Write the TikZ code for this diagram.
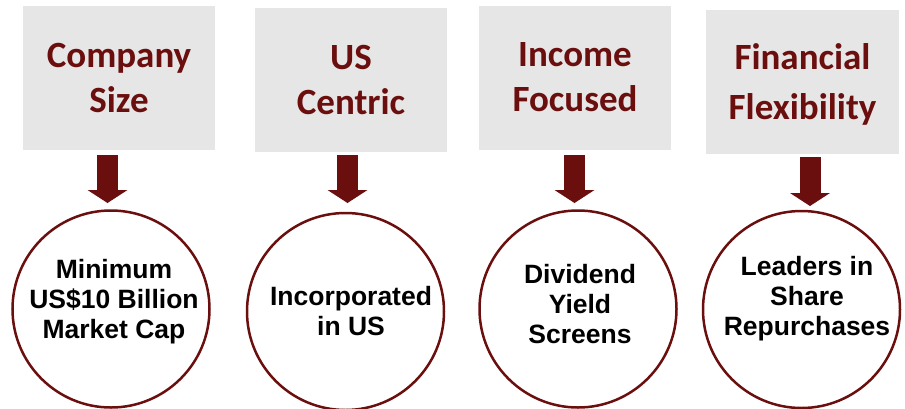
\documentclass[tikz,border=0pt]{standalone}
\usepackage{fontspec}
\setmainfont{Liberation Sans}
\newfontfamily\titlefont{Carlito}
\usetikzlibrary{arrows.meta}
\definecolor{darkmaroon}{HTML}{6B0E0E}
\definecolor{boxgray}{HTML}{E6E6E6}
\begin{document}
\begin{tikzpicture}[x=1pt,y=1pt,
  titlebox/.style={fill=boxgray, minimum width=192pt, minimum height=144pt, inner sep=0pt,
    font=\titlefont\bfseries\fontsize{37}{45}\selectfont, text=darkmaroon, align=center},
  critcircle/.style={circle, draw=darkmaroon, line width=2.5pt, minimum size=197pt, inner sep=0pt},
  crittext/.style={font=\bfseries\fontsize{26.5}{30}\selectfont, align=center, inner sep=0pt},
  downarrow/.style={draw=darkmaroon, line width=21pt, -{Triangle[width=40pt,length=13pt,line width=0pt]}}
]
\useasboundingbox (0,-408) rectangle (905,0);
% title boxes
\node[titlebox] (b1) at (119,-78) {Company\\Size};
\node[titlebox] (b2) at (351,-80) {US\\Centric};
\node[titlebox] (b3) at (575,-77.5) {Income\\Focused};
\node[titlebox, minimum width=193pt, text depth=-3pt, font=\titlefont\bfseries\fontsize{37}{50}\selectfont] (b4) at (802.5,-81.5) {Financial\\Flexibility};
% circles
\node[critcircle] (c1) at (111,-309) {};
\node[critcircle] (c2) at (345.5,-311.5) {};
\node[critcircle] (c3) at (578,-309) {};
\node[critcircle] (c4) at (801.5,-309.5) {};
\node[crittext] (t1) at (114,-301.5) {Minimum\\US\$10 Billion\\Market Cap};
\node[crittext] (t2) at (351,-311.5) {Incorporated\\in US};
\node[crittext] (t3) at (580,-304) {Dividend\\Yield\\Screens};
\node[crittext] (t4) at (807,-298.5) {Leaders in\\Share\\Repurchases};
% arrows
\coordinate (a1s) at (107.5,-155); \coordinate (a1e) at (107.5,-203);
\coordinate (a2s) at (347.5,-155); \coordinate (a2e) at (347.5,-203);
\coordinate (a3s) at (574.5,-155); \coordinate (a3e) at (574.5,-203);
\coordinate (a4s) at (810,-157);   \coordinate (a4e) at (810,-206);
\draw[downarrow] (a1s) -- (a1e);
\draw[downarrow] (a2s) -- (a2e);
\draw[downarrow] (a3s) -- (a3e);
\draw[downarrow] (a4s) -- (a4e);
\end{tikzpicture}
\end{document}
